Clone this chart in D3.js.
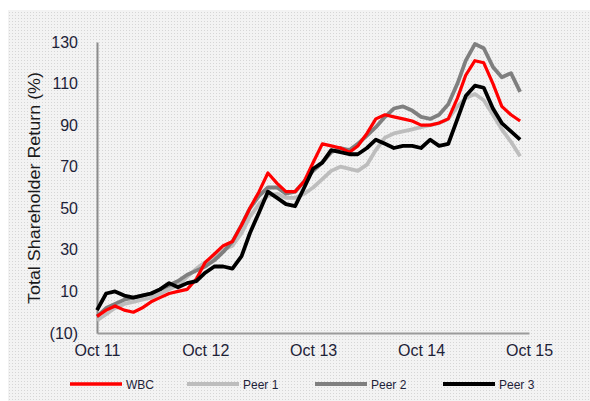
<!DOCTYPE html>
<html><head><meta charset="utf-8">
<script src="https://cdn.jsdelivr.net/npm/d3@7"></script>
<style>body{margin:0;background:#fff;}svg{display:block;}</style>
</head><body>
<svg id="c" width="590" height="401"></svg>
<script>
const startMonth = new Date(2011, 9, 1);
const xTickLabels = ["Oct 11", "Oct 12", "Oct 13", "Oct 14", "Oct 15"];
const xTickDates = [new Date(2011,9,1), new Date(2012,9,1), new Date(2013,9,1), new Date(2014,9,1), new Date(2015,9,1)];
const yTicks = [-10, 10, 30, 50, 70, 90, 110, 130];
const seriesNames = ["WBC", "Peer 1", "Peer 2", "Peer 3"];
const wbc   = [-2,1,3,1,0,2,5,7,9,10,11,16,24,28,32,34,42,50,58,67,62,58,58,63,72,81,80,79,77,80,86,93,95,94,93,92,90,90,91,93,103,114,121,120,110,99,95,92];
const peer1 = [-4,-1,2,4,5,6,7,9,11,13,17,21,24,27,30,32,38,46,52,56,57,55,55,57,60,64,68,70,69,68,71,78,84,86,87,88,89,90,91,93,99,103,105,102,95,88,82,75];
const peer2 = [-2,2,4,6,7,8,9,11,13,15,18,20,22,25,29,34,42,50,56,60,60,57,58,63,68,72,77,79,78,81,85,89,94,98,99,97,94,93,95,100,110,121,129,127,118,113,115,106];
const peer3 = [1,9,10,8,7,8,9,11,14,12,14,15,19,22,22,21,27,38,48,58,55,52,51,60,69,72,78,77,76,76,79,83,81,79,80,80,79,83,80,81,93,104,109,108,98,91,87,83];
const colors = ["#ff0000", "#bdbdbd", "#7f7f7f", "#000000"];

const allSeries = [wbc, peer1, peer2, peer3];
const svg = d3.select("#c");

// background texture
const defs = svg.append("defs");
const pat = defs.append("pattern").attr("id","dots").attr("width",3).attr("height",3).attr("patternUnits","userSpaceOnUse");
pat.append("rect").attr("width",3).attr("height",3).attr("fill","#f3f3f3");
pat.append("rect").attr("width",1).attr("height",1).attr("fill","#d6d6d6");
svg.append("rect").attr("x",8).attr("y",10).attr("width",582).attr("height",391).attr("fill","url(#dots)");

const x = d3.scaleTime().domain([xTickDates[0], xTickDates[4]]).range([97, 529]);
const y = d3.scaleLinear().domain([-10, 130]).range([333, 42]);

const fmt = v => v < 0 ? "(" + Math.abs(v) + ")" : String(v);

// axes
const yAxis = d3.axisLeft(y).tickValues(yTicks).tickFormat(fmt).tickSize(0).tickPadding(19);
const gy = svg.append("g").attr("transform","translate(97,0)").call(yAxis);
gy.select(".domain").attr("stroke","#8c8c8c").attr("stroke-width",2);
gy.selectAll("text").attr("font-family","Liberation Sans, Arial, sans-serif").attr("font-size",16).attr("fill","#1d2238");

const xAxis = d3.axisBottom(x).tickValues(xTickDates).tickFormat((d,i) => xTickLabels[i]).tickSize(0).tickPadding(12);
const gx = svg.append("g").attr("transform","translate(0,333)").call(xAxis);
gx.select(".domain").attr("stroke","#9a9a9a").attr("stroke-width",2);
gx.selectAll("text").attr("font-family","Liberation Sans, Arial, sans-serif").attr("font-size",16).attr("fill","#1d2238");

// y title
svg.append("text").attr("transform","translate(40,188) rotate(-90)")
  .attr("text-anchor","middle").attr("font-family","Liberation Sans, Arial, sans-serif")
  .attr("font-size",16).attr("fill","#1a1a1a").attr("textLength",232).attr("lengthAdjust","spacingAndGlyphs")
  .text("Total Shareholder Return (%)");

// lines
const line = d3.line().x((d,i) => x(d3.timeMonth.offset(startMonth, i))).y(d => y(d)).curve(d3.curveLinear);
const drawOrder = [1, 2, 0, 3];
drawOrder.forEach(k => {
  svg.append("path").datum(allSeries[k]).attr("fill","none")
    .attr("stroke", colors[k]).attr("stroke-width", k === 0 ? 3.2 : 3.8)
    .attr("stroke-linejoin","round").attr("d", line);
});

// legend
const legX = [70, 187, 315, 443];
const lg = svg.append("g");
seriesNames.forEach((n, k) => {
  lg.append("line").attr("x1", legX[k]).attr("x2", legX[k] + 52).attr("y1", 384).attr("y2", 384)
    .attr("stroke", colors[k]).attr("stroke-width", k === 0 ? 3.5 : 4);
  lg.append("text").attr("x", legX[k] + 56).attr("y", 388.5)
    .attr("font-family","Liberation Sans, Arial, sans-serif").attr("font-size",12).attr("fill","#1d2238").text(n);
});
</script>
</body></html>
